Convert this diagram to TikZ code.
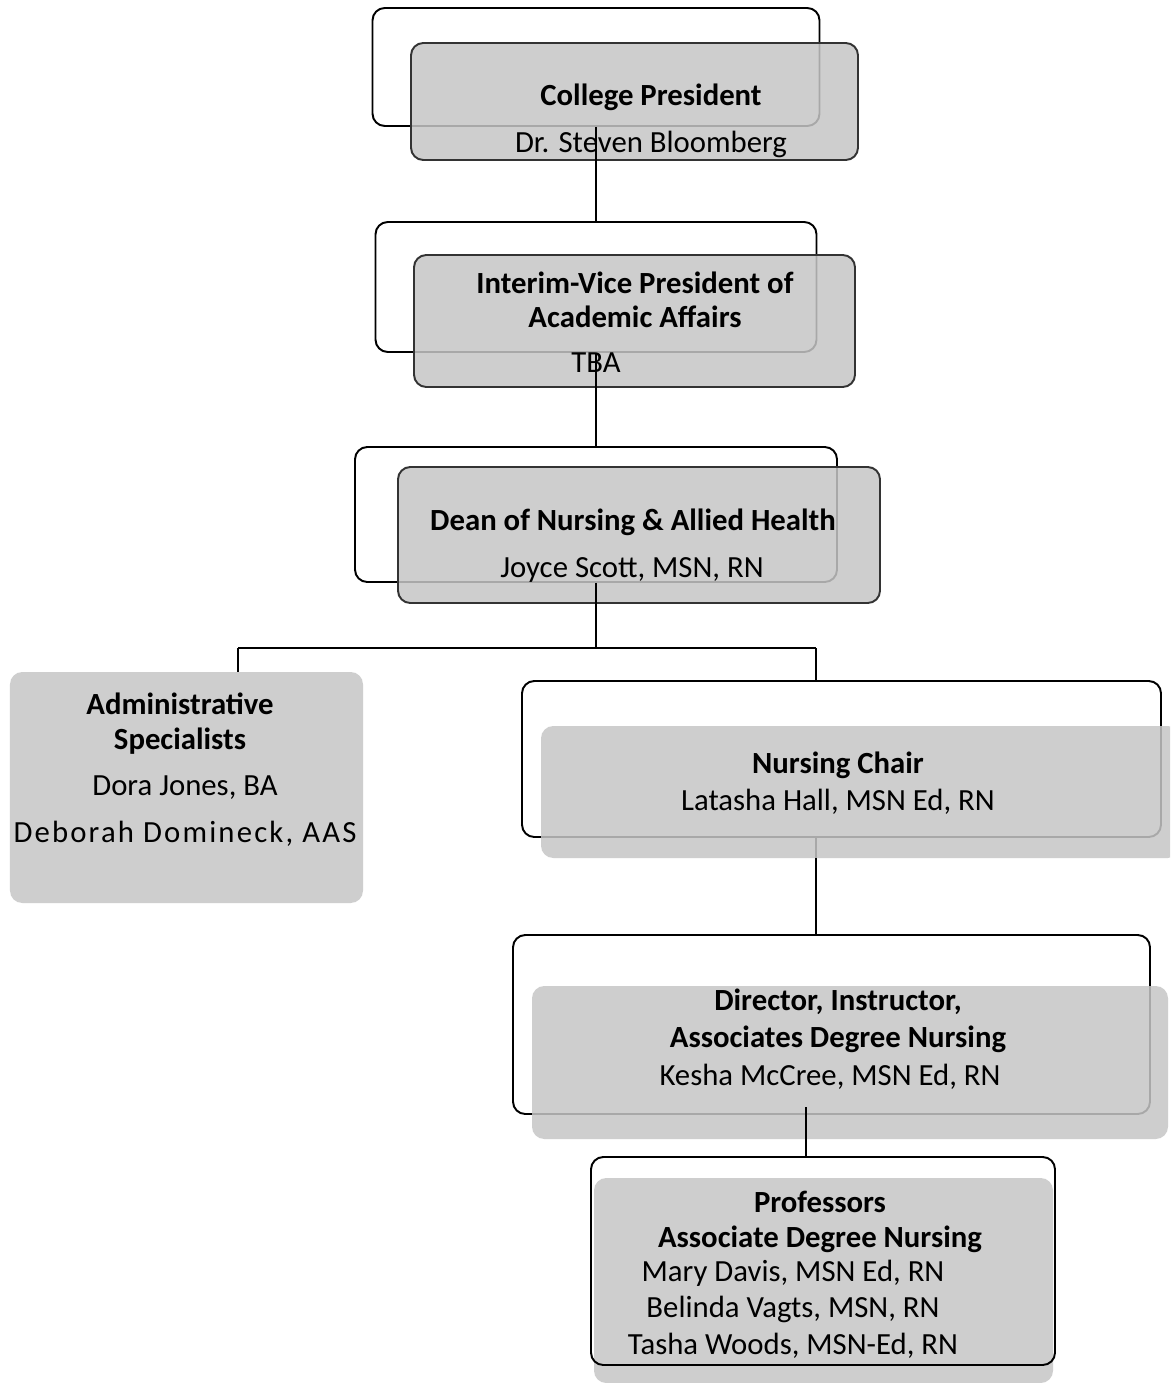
\documentclass[tikz,border=0pt]{standalone}
\usepackage{fontspec}
\setmainfont{Carlito}
\usetikzlibrary{positioning}
\definecolor{boxgray}{RGB}{198,198,198}

\tikzset{
    openbox/.style={draw, line width=1.1pt, rounded corners=7pt, fill=white, inner sep=0pt},
    graybox/.style={fill=boxgray, fill opacity=0.85, rounded corners=7pt, inner sep=0pt},
    rimbox/.style={graybox, draw=black!80, line width=1.1pt},
    ttl/.style={font=\bfseries\fontsize{17.5}{19.5}\selectfont, align=center, inner sep=0pt},
    nm/.style={font=\fontsize{17.5}{21}\selectfont, align=center, inner sep=0pt},
    link/.style={line width=1.2pt, draw=black}
}

\begin{document}
\begin{tikzpicture}

    \clip (0,0) rectangle (23.4,-27.66);
    \fill[white] (0,0) rectangle (23.4,-27.66);

    % top of the chart
    \node(P1)[openbox, minimum width=8.94cm, minimum height=2.36cm] at (11.92,-1.34){};
    \node(P2)[rimbox, minimum width=8.94cm, minimum height=2.34cm] at (12.69,-2.03){};
    \node(Pt)[ttl] at (13.02,-1.94){College President};
    \node(Pn)[nm] at (13.02,-2.88){Dr. Steven Bloomberg};

    \node(V1)[openbox, minimum width=8.82cm, minimum height=2.60cm] at (11.92,-5.74){};
    \node(V2)[rimbox, minimum width=8.82cm, minimum height=2.64cm] at (12.69,-6.42){};
    \node(Vt)[ttl] at (12.70,-5.99){Interim-Vice President of\\Academic Affairs};
    \node(Vn)[nm] at (11.92,-7.26){TBA};

    \node(D1)[openbox, minimum width=9.64cm, minimum height=2.70cm] at (11.92,-10.29){};
    \node(D2)[rimbox, minimum width=9.64cm, minimum height=2.72cm] at (12.78,-10.70){};
    \node(Dt)[ttl] at (12.66,-10.44){Dean of Nursing \& Allied Health};
    \node(Dn)[nm] at (12.64,-11.39){Joyce Scott, MSN, RN};

    % second row
    \node(A1)[graybox, minimum width=7.06cm, minimum height=4.62cm] at (3.73,-15.75){};
    \node(At)[ttl] at (3.60,-14.47){Administrative\\Specialists};
    \node(An)[nm, font=\fontsize{17.5}{26.7}\selectfont] at (3.70,-16.23){Dora Jones, BA\\{\addfontfeature{LetterSpace=7}Deborah Domineck, AAS}};

    \node(C1)[openbox, minimum width=12.78cm, minimum height=3.12cm] at (16.83,-15.18){};
    \coordinate(rgt) at (16.32,-12.96);
    \draw[link] (C1.south -| rgt) -- ++(0,-0.5);
    \node(C2)[graybox, minimum width=12.78cm, minimum height=2.64cm] at (17.21,-15.84){};
    \node(Ct)[ttl] at (16.76,-15.30){Nursing Chair};
    \node(Cn)[nm] at (16.76,-16.04){Latasha Hall, MSN Ed, RN};

    \node(R1)[openbox, minimum width=12.74cm, minimum height=3.58cm] at (16.63,-20.49){};
    \node(R2)[graybox, minimum width=12.72cm, minimum height=3.06cm] at (17.00,-21.25){};
    \node(Rt)[ttl, font=\bfseries\fontsize{17.5}{21}\selectfont] at (16.76,-20.41){Director, Instructor,\\Associates Degree Nursing};
    \node(Rn)[nm] at (16.60,-21.54){Kesha McCree, MSN Ed, RN};

    \node(F2)[graybox, minimum width=9.18cm, minimum height=4.10cm] at (16.47,-25.61){};
    \node(F1)[openbox, fill=none, minimum width=9.28cm, minimum height=4.16cm] at (16.46,-25.22){};
    \node(Ft)[ttl] at (16.40,-24.44){Professors\\Associate Degree Nursing};
    \node(Fn)[nm, font=\fontsize{17.5}{20.7}\selectfont] at (15.86,-26.18){Mary Davis, MSN Ed, RN\\Belinda Vagts, MSN, RN\\Tasha Woods, MSN-Ed, RN};

    % connectors
    \coordinate(split) at (11.92,-12.96);
    \coordinate(lft) at (4.76,-12.96);
    \coordinate(pj) at (16.12,-22.14);

    \draw[link] (P1.south) -- (V1.north);
    \draw[link] (V1.south) -- (D1.north);
    \draw[link] (D1.south) -- (split);
    \draw[link] (lft) -- (rgt);
    \draw[link] (lft) -- (lft |- A1.north);
    \draw[link] (rgt) -- (rgt |- C1.north);
    \draw[link] (C2.south -| rgt) -- (R1.north -| rgt);
    \draw[link] (pj) -- (pj |- F1.north);

\end{tikzpicture}
\end{document}
